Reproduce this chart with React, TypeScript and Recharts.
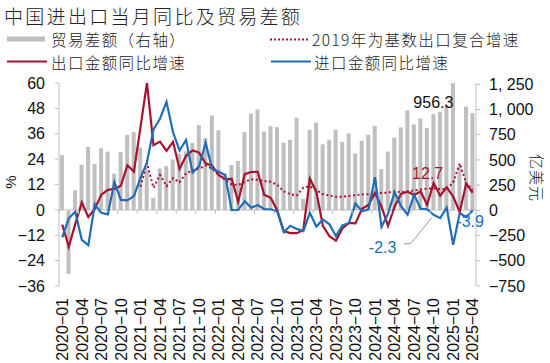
import React from "react";
import { ComposedChart, Bar, Line, XAxis, YAxis, ReferenceLine, LabelList } from "recharts";

// monthly categories 2020-01 .. 2025-04
const months = [
  "2020-01", "2020-02", "2020-03", "2020-04", "2020-05", "2020-06", "2020-07", "2020-08", "2020-09", "2020-10", "2020-11", "2020-12",
  "2021-01", "2021-02", "2021-03", "2021-04", "2021-05", "2021-06", "2021-07", "2021-08", "2021-09", "2021-10", "2021-11", "2021-12",
  "2022-01", "2022-02", "2022-03", "2022-04", "2022-05", "2022-06", "2022-07", "2022-08", "2022-09", "2022-10", "2022-11", "2022-12",
  "2023-01", "2023-02", "2023-03", "2023-04", "2023-05", "2023-06", "2023-07", "2023-08", "2023-09", "2023-10", "2023-11", "2023-12",
  "2024-01", "2024-02", "2024-03", "2024-04", "2024-05", "2024-06", "2024-07", "2024-08", "2024-09", "2024-10", "2024-11", "2024-12",
  "2025-01", "2025-02", "2025-03", "2025-04",
];

// 贸易差额, 亿美元 (right axis)
const balance = [
  548, -630, 199, 453, 628, 460, 615, 582, 365, 580, 750, 775,
  623, 405, 125, 415, 440, 505, 560, 585, 668, 845, 717, 940,
  794, 365, 450, 490, 775, 960, 1000, 782, 835, 825, 670, 700,
  919, 115, 800, 870, 655, 700, 800, 680, 762, 565, 690, 750,
  837, 410, 583, 722, 823, 992, 852, 911, 818, 956.3, 978, 1049,
  1263, 440, 1030, 965,
];

// 出口金额同比, %
const exportYoy = [
  -7, -17.5, -6.6, 3.5, -3.3, 0.5, 7.2, 9.5, 9.9, 11.4, 21.1, 18.1,
  39, 60, 30.6, 32.3, 27.9, 32.2, 19.3, 25.6, 28.1, 27.1, 22.0, 20.9,
  16.5, 14.5, 14.7, 3.9, 16.9, 17.9, 18.0, 7.1, 5.7, -0.3, -10, -11,
  -11, -9.5, 14.8, 8.5, -7.5, -12.4, -14.5, -8.8, -6.2, -6.4, 0.5, 2.3,
  8, 1.5, -7.5, 1.5, 7.6, 8.6, 7.0, 8.7, 2.4, 12.7, 6.7, 10.7,
  6.3, -1, 12.4, 8.1,
];

// 进口金额同比, %
const importYoy = [
  -13, -4, -0.9, -14.2, -16.7, 2.7, -1.4, -2.1, 13.2, 4.7, 4.5, 6.5,
  15, 22.5, 38.1, 43.1, 51.1, 36.7, 28.1, 33.1, 17.6, 20.6, 31.7, 19.5,
  18, 16.5, -0.1, 0.0, 4.1, 1.0, 2.3, 0.3, 0.3, -0.7, -10.6, -7.5,
  -9, -10, -1.4, -7.9, -4.5, -6.8, -12.4, -7.3, -6.2, 3.0, -0.6, 0.2,
  15.5, -8, -1.9, 8.4, 1.8, -2.3, 7.2, 0.5, 0.3, -2.3, -3.9, 1.0,
  -16.5, -1.5, -3.5, -0.2,
];

// 2019年为基数出口复合增速, %
const exportCagr = [
  null, null, null, null, null, null, null, null, null, null, null, null,
  11, 22, 10.5, 16.5, 11.2, 15, 13.1, 17.3, 18.7, 19.5, 21, 19.5,
  16.5, 14.2, 12, 11.8, 13.2, 14.5, 14.2, 13.6, 13.3, 11.8, 8.7, 7.4,
  6.8, 10.5, 11.2, 9.4, 7.4, 6.8, 6.2, 6.2, 6.6, 7.0, 7.3, 7.4,
  7.8, 8.0, 8.2, 8.7, 8.4, 8.7, 9.2, 9.6, 10, 10.2, 9.9, 9.8,
  13, 22, 12.5, 9.5,
];

const leftTicks = [-36, -24, -12, 0, 12, 24, 36, 48, 60];
const rightTicks = [-750, -500, -250, 0, 250, 500, 750, 1000, 1250];
const labelMonth = "2024-10";
const noteMonth = "2024-11";

const data = months.map((month, i) => ({
  month,
  balance: balance[i],
  exportYoy: exportYoy[i],
  importYoy: importYoy[i],
  exportCagr: exportCagr[i],
}));

const RED = "#A8122E";
const BLUE = "#1F6DB5";
const GRAY = "#BFBFBF";
const AXIS = "#BFBFBF";
const NUM_FONT = "'Liberation Sans', Arial, sans-serif";
const CJK_FONT = "'Noto Sans CJK SC', 'Noto Sans', sans-serif";

const W = 550;
const H = 363;
const M = { top: 83, right: 8, bottom: 0, left: 9 };
const LEFT_W = 50;
const RIGHT_W = 66;
const X_H = 77;
const plotW = W - M.left - M.right - LEFT_W - RIGHT_W;
const plotH = H - M.top - M.bottom - X_H;
const band = plotW / months.length;
const zeroY = M.top + (plotH * 60) / 96;

const minus = (v: number) => (v < 0 ? "\u2212" + Math.abs(v) : String(v));
const fmtRight = (v: number) => {
  const s = Math.abs(v) >= 1000 ? `${Math.floor(Math.abs(v) / 1000)}, ${String(Math.abs(v) % 1000).padStart(3, "0")}` : String(Math.abs(v));
  return v < 0 ? "\u2212" + s : s;
};

function MonthTick({ x, y, payload }: any) {
  return (
    <g>
      <line x1={x - band / 2} x2={x - band / 2} y1={zeroY} y2={zeroY + 4} stroke={AXIS} strokeWidth={1} />
      <text
        x={x}
        y={y}
        transform={`rotate(-90, ${x}, ${y})`}
        textAnchor="end"
        dy="0.36em"
        fontSize={16}
        fontFamily={NUM_FONT}
        fill="#111"
      >
        {payload.value.replace("-", "\u2212")}
      </text>
    </g>
  );
}

function BalanceLabel({ x, y, width, index }: any) {
  if (months[index] !== labelMonth) return null;
  return (
    <text x={x + width / 2} y={y - 6} textAnchor="middle" fontSize={16} fontFamily={NUM_FONT} fill="#111">
      {balance[index]}
    </text>
  );
}

function ExportLabel({ x, y, index }: any) {
  if (months[index] !== labelMonth) return null;
  return (
    <text x={x - 6} y={y - 4} textAnchor="middle" fontSize={16} fontFamily={NUM_FONT} fill={RED}>
      {exportYoy[index]}
    </text>
  );
}

function ImportLabel({ x, y, index }: any) {
  if (months[index] === labelMonth) {
    return (
      <g>
        <polyline points={`${x - 30},${y + 29} ${x - 23},${y + 29} ${x - 2},${y + 3}`} fill="none" stroke="#999" strokeWidth={1} />
        <text x={x - 51} y={y + 38} textAnchor="middle" fontSize={16} fontFamily={NUM_FONT} fill={BLUE}>
          {importYoy[index]}
        </text>
      </g>
    );
  }
  if (months[index] === noteMonth) {
    return (
      <text x={x + 30} y={y + 9} textAnchor="middle" fontSize={16} fontFamily={NUM_FONT} fill={BLUE}>
        {importYoy[index]}
      </text>
    );
  }
  return null;
}

const legendText: React.CSSProperties = {
  position: "absolute",
  fontFamily: CJK_FONT,
  fontSize: 15.5,
  fontWeight: 300,
  letterSpacing: 1.4,
  color: "#222",
  lineHeight: "16px",
  whiteSpace: "nowrap",
};

export default function App() {
  return (
    <div style={{ position: "absolute", left: 0, top: 0, width: W, height: H, background: "#fff", overflow: "hidden" }}>
      <div style={{ position: "absolute", left: 4, top: 5, fontFamily: CJK_FONT, fontWeight: 300, fontSize: 19, letterSpacing: 2.3, color: "#222", lineHeight: "22px", whiteSpace: "nowrap" }}>
        中国进出口当月同比及贸易差额
      </div>

      <svg style={{ position: "absolute", left: 0, top: 0 }} width={W} height={80}>
        <rect x={7} y={36.5} width={38} height={5} fill={GRAY} />
        <line x1={270} x2={308} y1={39.5} y2={39.5} stroke={RED} strokeWidth={2} strokeDasharray="2 2" />
        <line x1={7} x2={47} y1={61.5} y2={61.5} stroke={RED} strokeWidth={2.2} />
        <line x1={271} x2={311} y1={61.5} y2={61.5} stroke={BLUE} strokeWidth={2.2} />
      </svg>
      <div style={{ ...legendText, left: 51, top: 31 }}>贸易差额（右轴）</div>
      <div style={{ ...legendText, left: 312, top: 31 }}>2019年为基数出口复合增速</div>
      <div style={{ ...legendText, left: 51, top: 54 }}>出口金额同比增速</div>
      <div style={{ ...legendText, left: 314, top: 54 }}>进口金额同比增速</div>

      <div style={{ position: "absolute", left: 10, top: 182, transform: "translate(-50%, -50%) rotate(-90deg)", fontFamily: NUM_FONT, fontSize: 15, color: "#111" }}>%</div>
      <div style={{ position: "absolute", left: 537, top: 178, transform: "translate(-50%, -50%) rotate(90deg)", fontFamily: CJK_FONT, fontWeight: 300, fontSize: 15, letterSpacing: 1, color: "#111", whiteSpace: "nowrap" }}>亿美元</div>

      <div style={{ position: "absolute", left: 0, top: 0 }}>
        <ComposedChart width={W} height={H} data={data} margin={M} barCategoryGap={0}>
          <XAxis
            dataKey="month"
            interval={2}
            axisLine={false}
            tickLine={false}
            tickSize={0}
            tickMargin={12}
            height={X_H}
            tick={<MonthTick />}
          />
          <YAxis
            yAxisId="left"
            domain={[-36, 60]}
            ticks={leftTicks}
            interval={0}
            width={LEFT_W}
            axisLine={{ stroke: AXIS }}
            tickLine={{ stroke: AXIS }}
            tickSize={4}
            tickMargin={10}
            tickFormatter={minus}
            tick={{ fontSize: 16, fontFamily: NUM_FONT, fill: "#111" }}
          />
          <YAxis
            yAxisId="right"
            orientation="right"
            domain={[-750, 1250]}
            ticks={rightTicks}
            interval={0}
            width={RIGHT_W}
            axisLine={{ stroke: AXIS }}
            tickLine={{ stroke: AXIS }}
            tickSize={4}
            tickMargin={9}
            tickFormatter={fmtRight}
            tick={{ fontSize: 16, fontFamily: NUM_FONT, fill: "#111" }}
          />
          <ReferenceLine yAxisId="left" y={0} stroke={AXIS} strokeWidth={1} />
          <Bar yAxisId="right" dataKey="balance" fill={GRAY} barSize={4} isAnimationActive={false}>
            <LabelList dataKey="balance" content={<BalanceLabel />} />
          </Bar>
          <Line
            yAxisId="left"
            dataKey="exportCagr"
            stroke={RED}
            strokeWidth={2}
            strokeDasharray="2 2.5"
            dot={false}
            activeDot={false}
            isAnimationActive={false}
          />
          <Line
            yAxisId="left"
            dataKey="exportYoy"
            stroke={RED}
            strokeWidth={2.2}
            dot={false}
            activeDot={false}
            isAnimationActive={false}
          >
            <LabelList dataKey="exportYoy" content={<ExportLabel />} />
          </Line>
          <Line
            yAxisId="left"
            dataKey="importYoy"
            stroke={BLUE}
            strokeWidth={2.2}
            dot={false}
            activeDot={false}
            isAnimationActive={false}
          >
            <LabelList dataKey="importYoy" content={<ImportLabel />} />
          </Line>
        </ComposedChart>
      </div>
    </div>
  );
}
